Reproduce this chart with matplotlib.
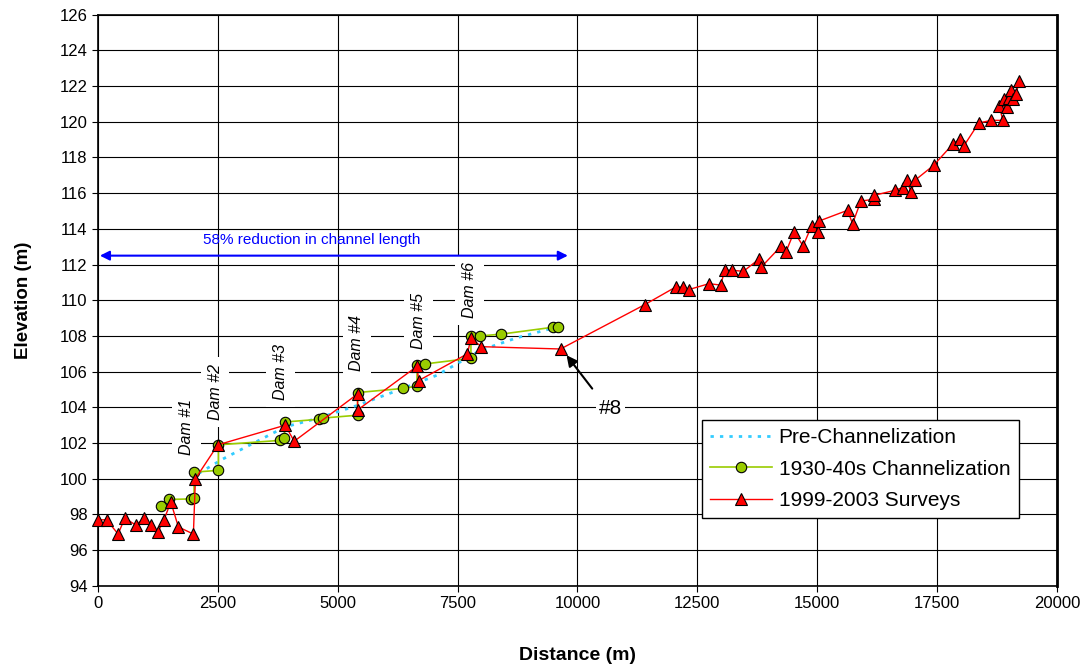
import matplotlib
matplotlib.use("Agg")
import matplotlib.pyplot as plt

plt.rcParams['font.family'] = ['Liberation Sans', 'DejaVu Sans']

# Pre-Channelization (dotted cyan)
pre_x = [2100, 2600, 3030, 3900, 4600, 5400, 6300, 7070, 7980, 8740, 9500]
pre_y = [100.3, 101.1, 101.7, 102.9, 103.4, 104.1, 105.0, 105.8, 107.2, 107.9, 108.45]

# 1930-40s Channelization (green circles)
ch_x = [1315, 1482, 1936, 2004, 2004, 2512, 2512, 3800, 3884, 3905, 4600, 4692,
        5414, 5414, 6362, 6654, 6654, 6813, 7778, 7778, 7962, 8404, 9494, 9590]
ch_y = [98.5, 98.84, 98.87, 98.9, 100.37, 100.47, 101.9, 102.15, 102.28, 103.18, 103.33, 103.4,
        103.56, 104.83, 105.06, 105.19, 106.37, 106.43, 106.75, 108.0, 108.0, 108.1, 108.49, 108.49]

# 1999-2003 Surveys (red triangles)
sv_x = [0, 180, 420, 560, 790, 960, 1100, 1247, 1378, 1518, 1677, 1990, 2032, 2500,
        3905, 4092, 5414, 5414, 6654, 6688, 7705, 7778, 7997, 9647,
        11400, 12048, 12208, 12325, 12743, 12987, 13071, 13232, 13461, 13787, 13837,
        14255, 14345, 14518, 14706, 14881, 15006, 15040, 15632, 15737, 15911, 16189, 16189,
        16621, 16781, 16871, 16955, 17038, 17428, 17825, 17984, 18054, 18368, 18626,
        18869, 18799, 18953, 18903, 18995, 19043, 19091, 19147, 19216]
sv_y = [97.7, 97.7, 96.9, 97.8, 97.4, 97.8, 97.4, 97.0, 97.7, 98.7, 97.3, 96.9, 100.0, 101.9,
        103.0, 102.1, 104.75, 103.85, 106.3, 105.5, 107.0, 107.87, 107.4, 107.27,
        109.75, 110.74, 110.74, 110.6, 110.93, 110.85, 111.68, 111.68, 111.62, 112.31, 111.87,
        113.06, 112.69, 113.83, 113.04, 114.16, 113.83, 114.44, 115.04, 114.29, 115.56, 115.66, 115.88,
        116.16, 116.31, 116.72, 116.05, 116.72, 117.56, 118.74, 119.06, 118.63, 119.93, 120.08,
        120.08, 120.89, 120.83, 121.26, 121.33, 121.76, 121.3, 121.58, 122.27]

dam_labels = ["Dam #1", "Dam #2", "Dam #3", "Dam #4", "Dam #5", "Dam #6"]
dam_x = [1852, 2443, 3800, 5401, 6688, 7753]
dam_y = [102.9, 104.85, 105.96, 107.62, 108.83, 110.56]

x_ticks = list(range(0, 20001, 2500))
y_ticks = list(range(94, 127, 2))

fig = plt.figure(figsize=(10.91, 6.68), dpi=100)
ax = fig.add_axes([0.0898, 0.123, 0.879, 0.855])

ax.set_xlim(0, 20000)
ax.set_ylim(94, 126)
ax.set_xticks(x_ticks)
ax.set_yticks(y_ticks)
ax.grid(True, color='black', linewidth=0.8)
ax.set_axisbelow(True)

ax.plot(pre_x, pre_y, linestyle=(0, (1.2, 2.2)), color='#33CCFF', linewidth=2,
        label='Pre-Channelization', zorder=3)
ax.plot(ch_x, ch_y, '-o', color='#99CC00', linewidth=1.2, markersize=7.5,
        markerfacecolor='#99CC00', markeredgecolor='black', markeredgewidth=0.8,
        label='1930-40s Channelization', zorder=4, clip_on=False)
ax.plot(sv_x, sv_y, '-^', color='#FF0000', linewidth=1, markersize=8,
        markerfacecolor='#FF0000', markeredgecolor='black', markeredgewidth=0.8,
        label='1999-2003 Surveys', zorder=5, clip_on=False)

for lbl, dx, dy in zip(dam_labels, dam_x, dam_y):
    ax.text(dx, dy, lbl, rotation=90, ha='center', va='center', fontsize=11.5,
            style='italic', zorder=2,
            bbox=dict(facecolor='white', edgecolor='none', pad=5))

# blue double arrow
ax.annotate('', xy=(40, 112.5), xytext=(9800, 112.5),
            arrowprops=dict(arrowstyle='<|-|>', color='#0000FF', lw=1.5,
                            mutation_scale=14, shrinkA=0, shrinkB=0), zorder=6)
ax.text(4450, 113.35, '58% reduction in channel length', color='#0000FF',
        ha='center', va='center', fontsize=11, zorder=6)

# #8 annotation
ax.annotate('', xy=(9772, 106.92), xytext=(10308, 105.05),
            arrowprops=dict(arrowstyle='-|>', color='black', lw=1.5,
                            mutation_scale=16, shrinkA=0, shrinkB=0), zorder=6)
ax.text(10690, 103.95, '#8', ha='center', va='center', fontsize=15, zorder=6,
        bbox=dict(facecolor='white', edgecolor='none', pad=2))

ax.tick_params(axis='both', labelsize=12, direction='out', length=4, color='black')
for s in ax.spines.values():
    s.set_color('black')
    s.set_linewidth(1.2)
ax.spines['right'].set_linewidth(2)

ax.set_xlabel('Distance (m)', fontsize=14, fontweight='bold', labelpad=26)
ax.set_ylabel('Elevation (m)', fontsize=13.5, fontweight='bold', labelpad=20)

leg = ax.legend(loc='lower right', bbox_to_anchor=(0.96, 0.118), fontsize=15,
                frameon=True, fancybox=False, edgecolor='black', framealpha=1,
                handlelength=3.0, handletextpad=0.3, borderpad=0.4,
                labelspacing=0.6, borderaxespad=0)
leg.get_frame().set_linewidth(1)

fig.savefig('out.png', dpi=100)
